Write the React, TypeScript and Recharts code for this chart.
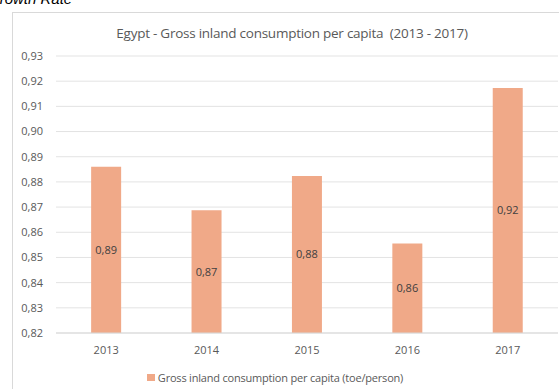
import React from 'react';
import { BarChart, Bar, XAxis, YAxis, CartesianGrid, LabelList, Legend } from 'recharts';

const years = ['2013', '2014', '2015', '2016', '2017'];
const consumption = [0.886, 0.8687, 0.8823, 0.8555, 0.9173];
const yTicks = [0.82, 0.83, 0.84, 0.85, 0.86, 0.87, 0.88, 0.89, 0.9, 0.91, 0.92, 0.93];

const data = years.map((year, i) => ({ year, value: consumption[i] }));

const FONT = '"Open Sans", "Noto Sans", sans-serif';
const fmt = (v: number) => v.toFixed(2).replace('.', ',');

const LegendContent = () => (
  <div style={{ display: 'flex', alignItems: 'center', justifyContent: 'center', paddingTop: 14, marginLeft: -8, fontFamily: FONT, fontSize: 11, lineHeight: '13px', color: '#595959', letterSpacing: -0.2 }}>
    <span style={{ width: 8, height: 7, background: '#f0a988', marginRight: 3, display: 'inline-block' }} />
    Gross inland consumption per capita (toe/person)
  </div>
);

const App: React.FC = () => {
  return (
    <div style={{ position: 'absolute', left: 0, top: 0, width: 559, height: 389, overflow: 'hidden', background: '#fff' }}>
      <div style={{ position: 'absolute', left: -12, top: -10, fontFamily: 'Arial, "Liberation Sans", sans-serif', fontStyle: 'italic', fontSize: 15, color: '#000', whiteSpace: 'nowrap' }}>
        Growth Rate
      </div>
      <div style={{ position: 'absolute', left: 12, top: 12, width: 600, height: 420, border: '1px solid #d9d9d9' }} />
      <div style={{ position: 'absolute', left: 0, width: 584, top: 24, textAlign: 'center', fontFamily: FONT, fontSize: 13.5, color: '#595959', whiteSpace: 'pre', letterSpacing: -0.25 }}>
        {'Egypt - Gross inland consumption per capita  (2013 - 2017)'}
      </div>
      <div style={{ position: 'absolute', left: 0, top: 0 }}>
        <BarChart width={559} height={389} data={data} margin={{ top: 56, right: 1, left: 0, bottom: 0 }} barCategoryGap="35%">
          <CartesianGrid vertical={false} stroke="#e3e3e3" />
          <XAxis
            dataKey="year"
            axisLine={{ stroke: '#d9d9d9' }}
            tickLine={false}
            tickMargin={7}
            height={24}
            tick={{ fill: '#595959', fontSize: 11, fontFamily: FONT }}
          />
          <YAxis
            type="number"
            domain={[0.82, 0.93]}
            ticks={yTicks}
            interval={0}
            width={56}
            axisLine={false}
            tickLine={false}
            tickMargin={7}
            tickFormatter={fmt}
            tick={{ fill: '#595959', fontSize: 11, fontFamily: FONT }}
          />
          <Legend verticalAlign="bottom" height={32} content={<LegendContent />} />
          <Bar dataKey="value" fill="#f0a988" isAnimationActive={false}>
            <LabelList dataKey="value" position="center" formatter={(v: any) => fmt(Number(v))} style={{ fill: '#404040', fontSize: 11, fontFamily: FONT }} />
          </Bar>
        </BarChart>
      </div>
    </div>
  );
};

export default App;
